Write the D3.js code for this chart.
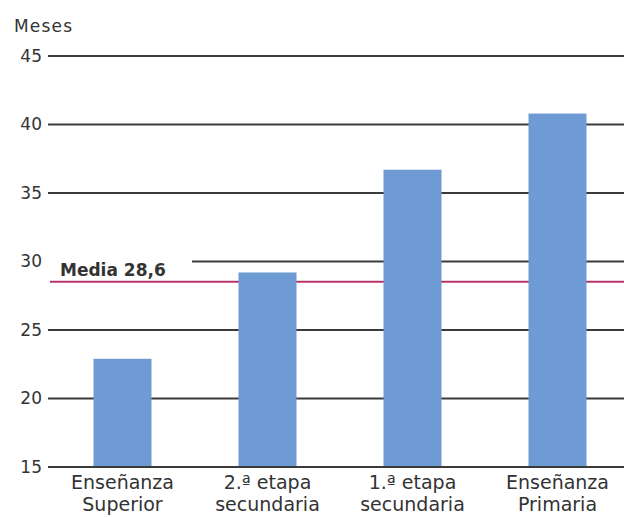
<!DOCTYPE html>
<html>
<head>
<meta charset="utf-8">
<script src="https://cdn.jsdelivr.net/npm/d3@7"></script>
<style>
  html, body { margin: 0; padding: 0; background: #fff; }
  svg { display: block; }
  text { font-family: "DejaVu Sans", Verdana, sans-serif; fill: #333; }
</style>
</head>
<body>
<svg id="chart" width="624" height="517"></svg>
<script>
const categories = [
  ['Enseñanza', 'Superior'],
  ['2.ª etapa', 'secundaria'],
  ['1.ª etapa', 'secundaria'],
  ['Enseñanza', 'Primaria']
];
const values = [22.9, 29.2, 36.7, 40.8];
const yTicks = [15, 20, 25, 30, 35, 40, 45];
const mediaValue = 28.6;
const mediaLabel = 'Media 28,6';
const yTitle = 'Meses';

const svg = d3.select('#chart');
const width = 624;

const y = d3.scaleLinear()
  .domain([15, 45])
  .range([467, 56]);

const x = d3.scaleBand()
  .domain(d3.range(categories.length))
  .range([50, 630])
  .paddingInner(0.6)
  .paddingOuter(0.3);

// grid lines
svg.append('g')
  .selectAll('line')
  .data(yTicks)
  .join('line')
  .attr('x1', 48)
  .attr('x2', width)
  .attr('y1', d => y(d))
  .attr('y2', d => y(d))
  .attr('stroke', '#3a3a3a')
  .attr('stroke-width', 2);

// tick labels
svg.append('g')
  .selectAll('text')
  .data(yTicks)
  .join('text')
  .attr('x', 42)
  .attr('y', d => y(d))
  .attr('dy', '0.35em')
  .attr('text-anchor', 'end')
  .attr('font-size', 17)
  .text(d => d);

svg.append('text')
  .attr('x', 14)
  .attr('y', 32)
  .attr('font-size', 17)
  .attr('letter-spacing', 1.2)
  .text(yTitle);

// mean line
svg.append('line')
  .attr('x1', 50)
  .attr('x2', width)
  .attr('y1', y(mediaValue) + 1)
  .attr('y2', y(mediaValue) + 1)
  .attr('stroke', '#b8346a')
  .attr('stroke-width', 2);

// label box hides the 30 grid line
svg.append('rect')
  .attr('x', 47)
  .attr('y', y(30) - 8)
  .attr('width', 145)
  .attr('height', 18)
  .attr('fill', '#fff');

svg.append('text')
  .attr('x', 60)
  .attr('y', 276)
  .attr('font-size', 17)
  .attr('font-weight', 'bold')
  .text(mediaLabel);

// bars
svg.append('g')
  .selectAll('rect')
  .data(values)
  .join('rect')
  .attr('x', (d, i) => x(i))
  .attr('y', d => y(d))
  .attr('width', x.bandwidth())
  .attr('height', d => y(15) - y(d) - 1)
  .attr('fill', '#6f9bd4');

// category labels
const cat = svg.append('g')
  .selectAll('text')
  .data(categories)
  .join('text')
  .attr('x', (d, i) => x(i) + x.bandwidth() / 2)
  .attr('y', 489)
  .attr('text-anchor', 'middle')
  .attr('font-size', 19);

cat.selectAll('tspan')
  .data(d => d)
  .join('tspan')
  .attr('x', function () { return this.parentNode.getAttribute('x'); })
  .attr('dy', (d, i) => i === 0 ? 0 : 22)
  .text(d => d);
</script>
</body>
</html>
